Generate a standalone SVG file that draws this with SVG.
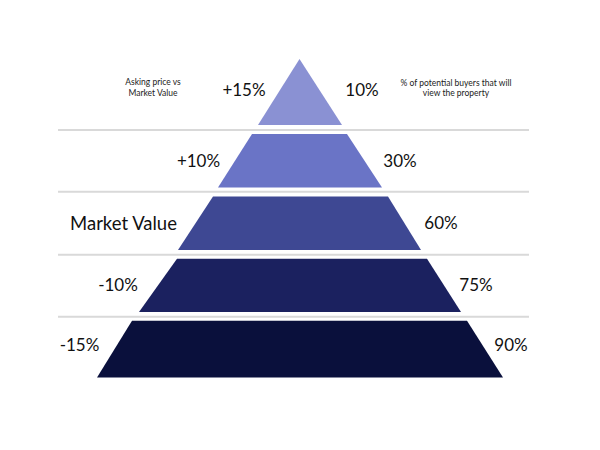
<svg xmlns="http://www.w3.org/2000/svg" width="600" height="450" viewBox="0 0 600 450">
<style>
.sep{stroke:#d9d9d9;stroke-width:2;fill:none}
.lbl{font-family:Lato,"Liberation Sans",sans-serif;font-size:17px;fill:#111;text-anchor:middle}
.big{font-size:18.5px}
.small{font-family:Lato,"Liberation Sans",sans-serif;font-size:8.5px;fill:#222;text-anchor:middle}
</style>
<rect width="600" height="450" fill="#ffffff"/>
<g id="separators">
<line class="sep" x1="58" y1="130" x2="529" y2="130"/>
<line class="sep" x1="58" y1="191.7" x2="529" y2="191.7"/>
<line class="sep" x1="58" y1="254.7" x2="529" y2="254.7"/>
<line class="sep" x1="58" y1="316.7" x2="529" y2="316.7"/>
</g>
<g id="tier1">
<polygon points="299.5,59 342,125 258,125" fill="#8a91d3"/>
<text class="lbl" x="244" y="96">+15%</text>
<text class="lbl" x="362" y="96">10%</text>
</g>
<g id="tier2">
<polygon points="252,134 347,134 382,187.5 218,187.5" fill="#6a74c6"/>
<text class="lbl" x="198.5" y="167">+10%</text>
<text class="lbl" x="400" y="167">30%</text>
</g>
<g id="tier3">
<polygon points="213,196.5 388,196.5 421,250 178,250" fill="#3e4893"/>
<text class="lbl big" x="123.5" y="230">Market Value</text>
<text class="lbl" x="441" y="229">60%</text>
</g>
<g id="tier4">
<polygon points="177,258.7 427,258.7 461,312 139,312" fill="#1b215f"/>
<text class="lbl" x="118" y="291">-10%</text>
<text class="lbl" x="476" y="291">75%</text>
</g>
<g id="tier5">
<polygon points="132,320.7 467,320.7 503,377.5 97,377.5" fill="#0a103c"/>
<text class="lbl" x="79.5" y="351">-15%</text>
<text class="lbl" x="511" y="351">90%</text>
</g>
<g id="legend-left">
<text class="small" x="153" y="85">Asking price vs</text>
<text class="small" x="153" y="96">Market Value</text>
</g>
<g id="legend-right">
<text class="small" x="456" y="86">% of potential buyers that will</text>
<text class="small" x="456" y="96">view the property</text>
</g>
</svg>
